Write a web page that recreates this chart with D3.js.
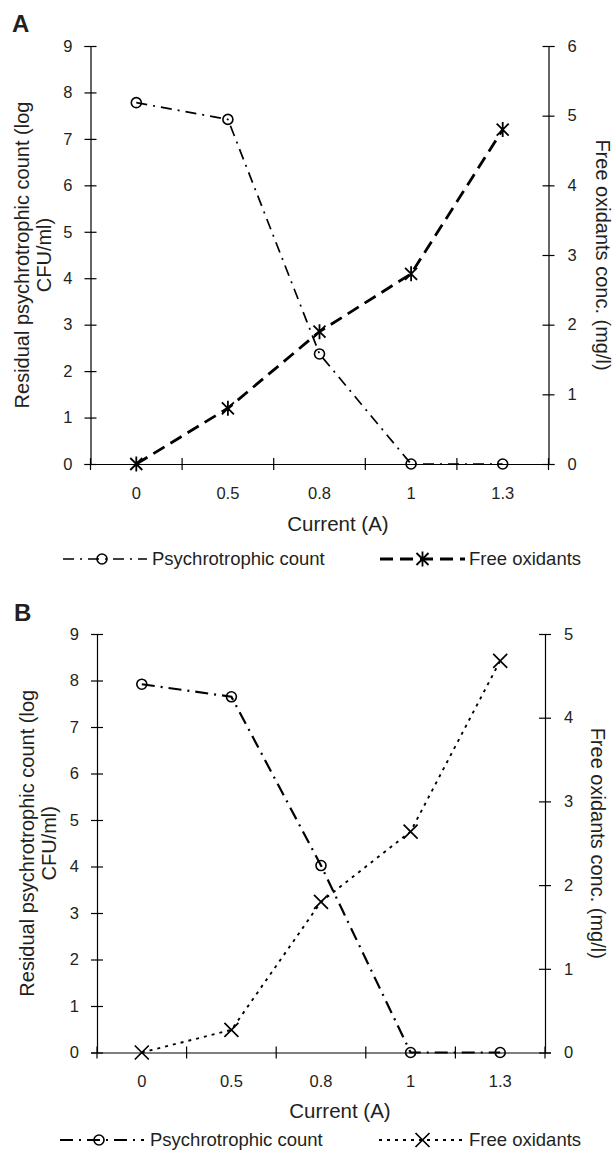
<!DOCTYPE html>
<html>
<head>
<meta charset="utf-8">
<script src="https://cdn.jsdelivr.net/npm/d3@7"></script>
<style>
  body { margin: 0; background: #fff; }
  text { font-family: "Liberation Sans", Arial, sans-serif; fill: #231f20; }
</style>
</head>
<body>
<script>
// values
var currents = ["0", "0.5", "0.8", "1", "1.3"];
var countA = [7.78, 7.42, 2.37, 0, 0];
var oxidA = [0, 0.8, 1.9, 2.73, 4.8];
var countB = [7.92, 7.65, 4.02, 0, 0];
var oxidB = [0, 0.27, 1.8, 2.64, 4.68];
var leftTicks = [0, 1, 2, 3, 4, 5, 6, 7, 8, 9];
var rightTicksA = [0, 1, 2, 3, 4, 5, 6];
var rightTicksB = [0, 1, 2, 3, 4, 5];

var svg = d3.select("body").append("svg").attr("width", 613).attr("height", 1155);

var panels = [
  { letter: "A", ly: 32, lx: 12, x0: 90.5, x1: 548.5, y0: 46, y1: 464, count: countA, oxid: oxidA,
    rmax: 6, rticks: rightTicksA, marker: "star", oxDash: "13,7", oxWidth: 2.8,
    ctDash: "11,6,2,6", ctWidth: 1.7, t1: 29, t2: 51, rt: 596, xt: 338, xtY: 531, legY: 565,
    leg1: [63, 147, 152], leg2: [380, 465, 469] },
  { letter: "B", ly: 621, lx: 14, x0: 97, x1: 545, y0: 634, y1: 1052.5, count: countB, oxid: oxidB,
    rmax: 5, rticks: rightTicksB, marker: "x", oxDash: "3,5", oxWidth: 1.9,
    ctDash: "13,6,2,6", ctWidth: 2.2, t1: 34, t2: 56, rt: 591, xt: 340, xtY: 1118, legY: 1146,
    leg1: [60, 144, 150], leg2: [379, 466, 469] }
];

function drawMarker(g, type, x, y) {
  if (type === "circle") {
    g.append("circle").attr("cx", x).attr("cy", y).attr("r", 5)
      .attr("fill", "none").attr("stroke", "#000").attr("stroke-width", 1.6);
  } else if (type === "star") {
    g.append("path")
      .attr("d", "M" + (x - 6) + "," + (y - 6) + "L" + (x + 6) + "," + (y + 6) +
                 "M" + (x - 6) + "," + (y + 6) + "L" + (x + 6) + "," + (y - 6) +
                 "M" + x + "," + (y - 7.5) + "L" + x + "," + (y + 7.5))
      .attr("stroke", "#000").attr("stroke-width", 1.8).attr("fill", "none");
  } else {
    g.append("path")
      .attr("d", "M" + (x - 7) + "," + (y - 7) + "L" + (x + 7) + "," + (y + 7) +
                 "M" + (x - 7) + "," + (y + 7) + "L" + (x + 7) + "," + (y - 7))
      .attr("stroke", "#000").attr("stroke-width", 1.7).attr("fill", "none");
  }
}

panels.forEach(function (p) {
  var g = svg.append("g");

  var x = d3.scaleBand().domain(currents).range([p.x0, p.x1]);
  var yL = d3.scaleLinear().domain([0, 9]).range([p.y1, p.y0]);
  var yR = d3.scaleLinear().domain([0, p.rmax]).range([p.y1, p.y0]);

  g.append("text").attr("x", p.lx).attr("y", p.ly)
    .style("font-size", "24px").style("font-weight", "bold").text(p.letter);

  // left axis
  var ax = g.append("g").attr("transform", "translate(" + p.x0 + ",0)")
    .call(d3.axisLeft(yL).tickValues(leftTicks).tickFormat(d3.format("d"))
      .tickSizeOuter(0).tickSize(6).tickPadding(12));
  ax.selectAll(".tick line").attr("x2", -6).attr("x1", 6);
  ax.selectAll("text").style("font-size", "16.5px");

  // right axis
  var ar = g.append("g").attr("transform", "translate(" + p.x1 + ",0)")
    .call(d3.axisRight(yR).tickValues(p.rticks).tickFormat(d3.format("d"))
      .tickSizeOuter(0).tickSize(6).tickPadding(13));
  ar.selectAll(".tick line").attr("x1", -6).attr("x2", 6);
  ar.selectAll("text").style("font-size", "16.5px");

  g.selectAll(".domain").attr("stroke", "#000").attr("stroke-width", 1.2);
  g.selectAll(".tick line").attr("stroke", "#000").attr("stroke-width", 1.2);

  // x axis: labels at band centres, ticks at band edges
  var axb = g.append("g").attr("transform", "translate(0," + p.y1 + ")")
    .call(d3.axisBottom(x).tickSize(0).tickPadding(23));
  axb.select(".domain").attr("stroke", "#000").attr("stroke-width", 1.2);
  axb.selectAll("text").style("font-size", "16.5px");
  var edges = currents.map(function (c) { return x(c); }).concat([x(currents[4]) + x.bandwidth()]);
  g.selectAll(".xedge").data(edges).enter().append("line")
    .attr("x1", function (d) { return d; }).attr("x2", function (d) { return d; })
    .attr("y1", p.y1 - 6).attr("y2", p.y1 + 6)
    .attr("stroke", "#000").attr("stroke-width", 1.2);

  // axis titles
  var cy = (p.y0 + p.y1) / 2;
  g.append("text").attr("transform", "translate(" + p.t1 + "," + cy + ") rotate(-90)")
    .attr("text-anchor", "middle").style("font-size", "20px").text("Residual psychrotrophic count (log");
  g.append("text").attr("transform", "translate(" + p.t2 + "," + cy + ") rotate(-90)")
    .attr("text-anchor", "middle").style("font-size", "20px").text("CFU/ml)");
  g.append("text").attr("transform", "translate(" + p.rt + "," + cy + ") rotate(90)")
    .attr("text-anchor", "middle").style("font-size", "20px").text("Free oxidants conc. (mg/l)");
  g.append("text").attr("x", p.xt).attr("y", p.xtY)
    .attr("text-anchor", "middle").style("font-size", "20.5px").text("Current (A)");

  var cx = function (i) { return x(currents[i]) + x.bandwidth() / 2; };

  var lineL = d3.line().x(function (d, i) { return cx(i); }).y(function (d) { return yL(d); });
  var lineR = d3.line().x(function (d, i) { return cx(i); }).y(function (d) { return yR(d); });

  g.append("path").attr("d", lineR(p.oxid)).attr("fill", "none").attr("stroke", "#000")
    .attr("stroke-width", p.oxWidth).attr("stroke-dasharray", p.oxDash);
  g.append("path").attr("d", lineL(p.count)).attr("fill", "none").attr("stroke", "#000")
    .attr("stroke-width", p.ctWidth).attr("stroke-dasharray", p.ctDash);

  p.oxid.forEach(function (d, i) { drawMarker(g, p.marker, cx(i), yR(d)); });
  p.count.forEach(function (d, i) { drawMarker(g, "circle", cx(i), yL(d)); });

  // legend
  var ly = p.legY - 6;
  g.append("line").attr("x1", p.leg1[0]).attr("x2", p.leg1[1]).attr("y1", ly).attr("y2", ly)
    .attr("stroke", "#000").attr("stroke-width", p.ctWidth).attr("stroke-dasharray", p.ctDash);
  drawMarker(g, "circle", (p.leg1[0] + p.leg1[1]) / 2 - 3, ly);
  g.append("text").attr("x", p.leg1[2]).attr("y", p.legY).style("font-size", "18.5px").text("Psychrotrophic count");

  g.append("line").attr("x1", p.leg2[0]).attr("x2", p.leg2[1]).attr("y1", ly).attr("y2", ly)
    .attr("stroke", "#000").attr("stroke-width", p.oxWidth).attr("stroke-dasharray", p.oxDash);
  drawMarker(g, p.marker, (p.leg2[0] + p.leg2[1]) / 2, ly);
  g.append("text").attr("x", p.leg2[2]).attr("y", p.legY).style("font-size", "18.5px").text("Free oxidants");
});
</script>
</body>
</html>
